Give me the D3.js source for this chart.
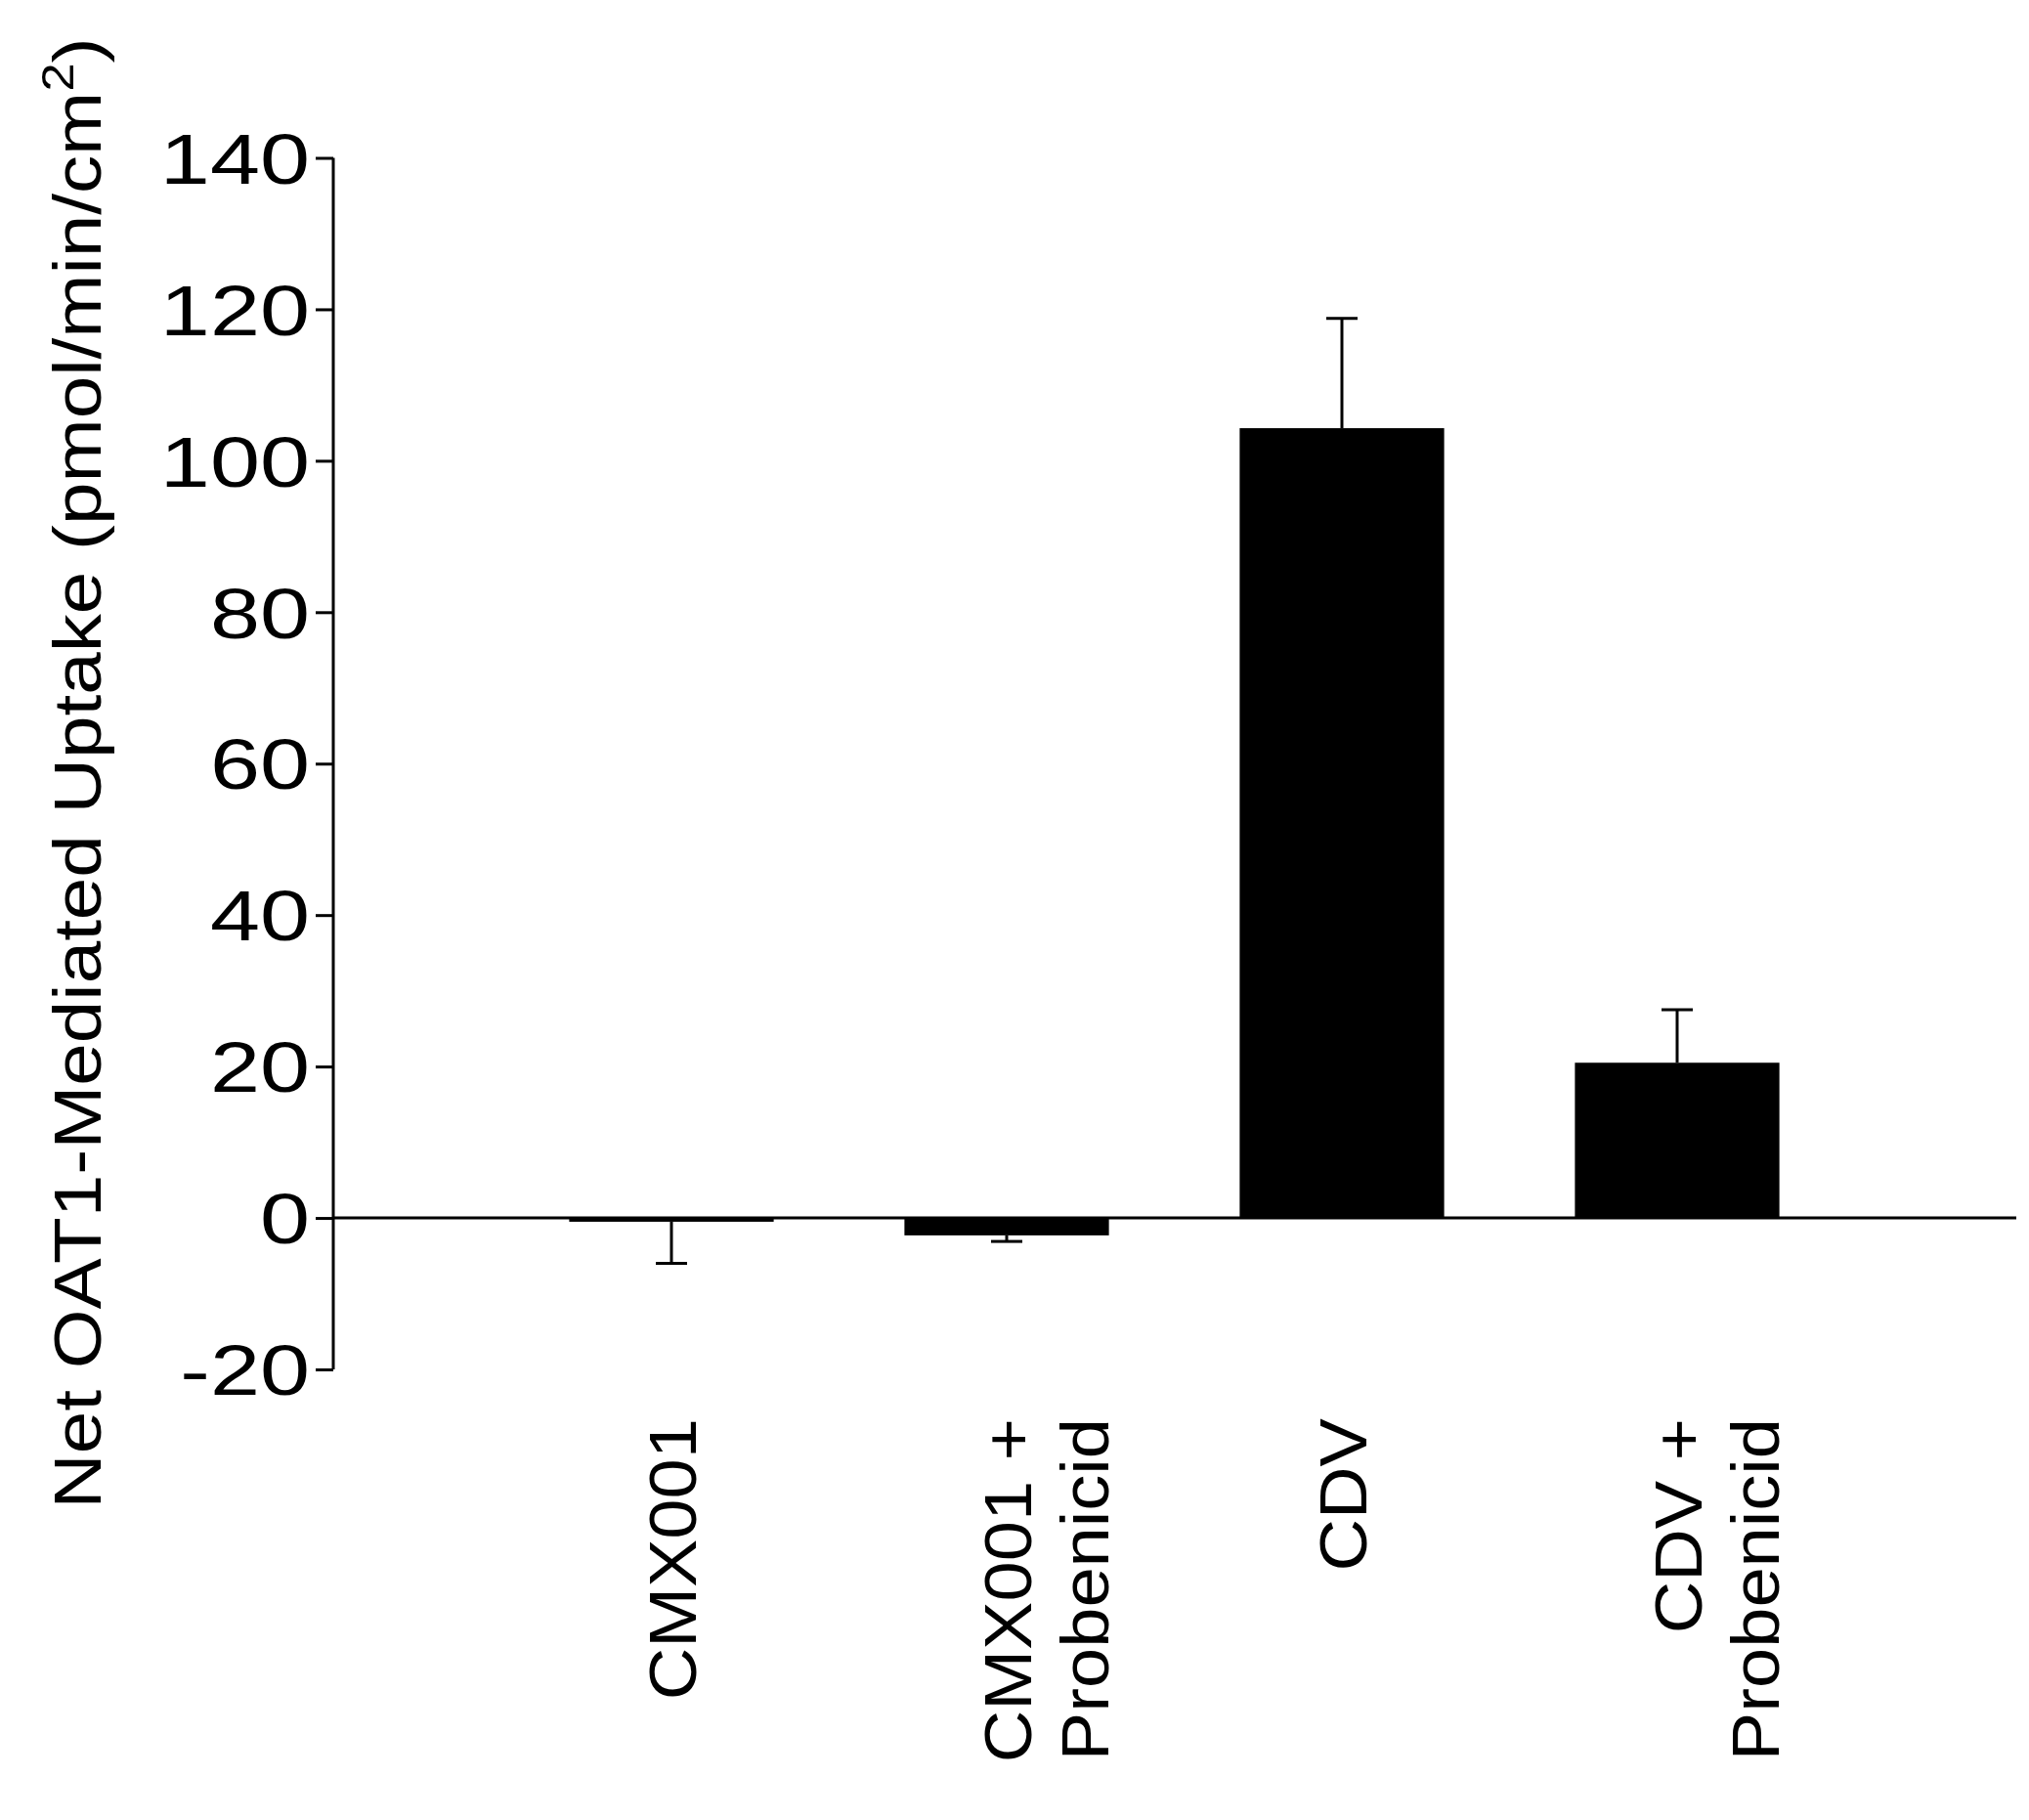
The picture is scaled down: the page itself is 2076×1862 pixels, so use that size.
<!DOCTYPE html><html><head><meta charset="utf-8">
<script src="https://cdn.jsdelivr.net/npm/d3@7"></script>
<style>body{margin:0;background:#fff}</style></head><body>
<svg id="c" width="2076" height="1862"></svg>
<script>
const categories = [["CMX001"],["CMX001 +","Probenicid"],["CDV"],["CDV +","Probenicid"]];
const values = [-0.5, -2.3, 104.3, 20.5];
const errors = [5.5, 0.8, 14.5, 7];
const yTicks = [-20,0,20,40,60,80,100,120,140];

const svg = d3.select("#c");
const font = "Liberation Sans, Arial, sans-serif";
const y = d3.scaleLinear().domain([-20,140]).range([1401,161.5]);
const x = d3.scaleBand().domain(d3.range(categories.length)).range([515.5,1887.5])
  .paddingInner(0.39).paddingOuter(0.195);

// y axis
const ya = svg.append("g").attr("transform","translate(341,0)")
  .call(d3.axisLeft(y).tickValues(yTicks).tickSize(18).tickPadding(6).tickFormat(d=>d));
ya.selectAll("line").attr("stroke","#000").attr("stroke-width",3);
ya.select(".domain").remove();
ya.append("line").attr("x1",0).attr("x2",0).attr("y1",y(-20)).attr("y2",y(140)).attr("stroke","#000").attr("stroke-width",3);
ya.selectAll("text").attr("font-family",font).attr("font-size",68).attr("fill","#000")
  .attr("dy","0.36em").attr("x",-24/1.35).attr("transform","scale(1.35,1.05)");

// bars
svg.selectAll("rect.bar").data(values).join("rect")
  .attr("x",(d,i)=>x(i)).attr("width",x.bandwidth())
  .attr("y",d=>y(Math.max(0,d))).attr("height",d=>Math.abs(y(d)-y(0)))
  .attr("fill","#000");

// error bars (one-sided)
const eb = svg.append("g").attr("stroke","#000").attr("stroke-width",3);
values.forEach((v,i)=>{
  const cx = x(i)+x.bandwidth()/2;
  const end = v>=0 ? v+errors[i] : v-errors[i];
  eb.append("line").attr("x1",cx).attr("x2",cx).attr("y1",y(v)).attr("y2",y(end));
  eb.append("line").attr("x1",cx-16).attr("x2",cx+16).attr("y1",y(end)).attr("y2",y(end));
});

// zero line
svg.append("line").attr("x1",341).attr("x2",2063).attr("y1",y(0)).attr("y2",y(0)).attr("stroke","#000").attr("stroke-width",3);

// category labels
categories.forEach((lines,i)=>{
  const cx = x(i)+x.bandwidth()/2;
  lines.forEach((t,j)=>{
    svg.append("text").attr("transform",`translate(${cx+25+j*79},1451) rotate(-90) scale(1.09,1)`)
      .attr("text-anchor","end").attr("font-family",font).attr("font-size",68).text(t);
  });
});

// y label
const yl = svg.append("text").attr("transform","translate(103,791) rotate(-90) scale(1.15,1)")
  .attr("text-anchor","middle").attr("font-family",font).attr("font-size",68);
yl.append("tspan").text("Net OAT1-Mediated Uptake (pmol/min/cm");
yl.append("tspan").attr("font-size",46).attr("dy",-28).text("2");
yl.append("tspan").attr("dy",28).text(")");
</script></body></html>
